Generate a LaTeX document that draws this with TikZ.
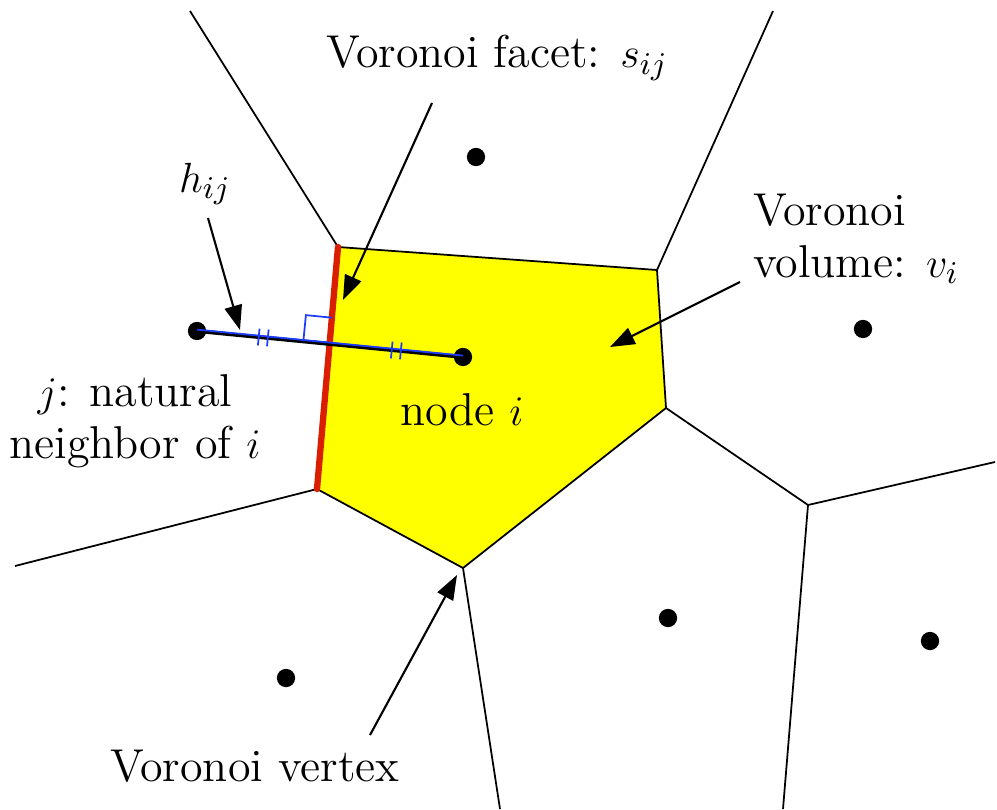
\documentclass[tikz,border=0pt]{standalone}
\usepackage{amsmath}
\usetikzlibrary{arrows.meta,calc}
\definecolor{cellyellow}{RGB}{255,255,0}
\definecolor{facetred}{RGB}{218,30,0}
\definecolor{markblue}{RGB}{30,60,255}
\tikzset{
  edge/.style={black, line width=0.5pt},
  site/.style={circle, fill=black, inner sep=0pt, minimum size=5.2pt},
  lblarr/.style={-{Triangle[length=7pt,width=5pt]}, black, line width=0.6pt},
  lbl/.style={font=\fontsize{13.1}{14.8}\selectfont, inner sep=1pt},
  tickmark/.style={markblue, line width=0.5pt},
}

\begin{document}
\begin{tikzpicture}[x=0.01cm, y=-0.01cm]
  \useasboundingbox (0,0) rectangle (997,809);
  % cell vertices
  \coordinate (vA) at (338,247);
  \coordinate (vB) at (657,270);
  \coordinate (vC) at (666,408);
  \coordinate (vD) at (463,568);
  \coordinate (vE) at (317,489);
  \coordinate (vF) at (808,505);
  % open ends
  \coordinate (oA) at (190,11);
  \coordinate (oB) at (773,11);
  \coordinate (oD) at (500,809);
  \coordinate (oE) at (15,566);
  \coordinate (oF1) at (995,462);
  \coordinate (oF2) at (783,809);

  \fill[cellyellow] (vA) -- (vB) -- (vC) -- (vD) -- (vE) -- cycle;
  \draw[edge] (vA) -- (vB) -- (vC) -- (vD) -- (vE);
  \draw[edge] (vA) -- (oA);
  \draw[edge] (vB) -- (oB);
  \draw[edge] (vC) -- (vF) -- (oF1);
  \draw[edge] (vF) -- (oF2);
  \draw[edge] (vD) -- (oD);
  \draw[edge] (vE) -- (oE);

  % facet
  \draw[facetred, line width=1.8pt, line cap=round] (vA) -- (vE);

  % sites
  \node[site] (ni) at (463,357) {};
  \node[site] (nj) at (197,331) {};
  \node[site] (n1) at (476,157) {};
  \node[site] (n2) at (863,329) {};
  \node[site] (n3) at (286,678) {};
  \node[site] (n4) at (668,618) {};
  \node[site] (n5) at (930,641) {};

  % distance h_ij
  \coordinate (X) at (intersection of vA--vE and nj--ni);
  \draw[black, line width=1.1pt] (nj.center) -- (ni.center);
  \draw[markblue, line width=0.5pt, transform canvas={yshift=0.4pt}] (nj.center) -- (ni.center);
  \draw[tickmark, shift={($(nj)!0.5!(X)$)}, rotate=-5.6]
    (-1.3pt,-2.4pt) -- (-1.3pt,2.4pt) (1.3pt,-2.4pt) -- (1.3pt,2.4pt);
  \draw[tickmark, shift={($(X)!0.5!(ni)$)}, rotate=-5.6]
    (-1.3pt,-2.4pt) -- (-1.3pt,2.4pt) (1.3pt,-2.4pt) -- (1.3pt,2.4pt);
  \draw[tickmark, shift={(X)}, rotate=-5.6]
    (-7.5pt,0pt) -- (-7.5pt,7.5pt) -- (0pt,7.5pt);

  % labels
  \node[lbl] (facetlab) at (497,58) {Voronoi facet: $s_{ij}$};
  \node[lbl] (hlab) at (205,184) {$h_{ij}$};
  \node[lbl, align=left] (vollab) at (856,239) {Voronoi\\volume: $v_i$};
  \node[lbl, align=center] (jlab) at (135,421) {$j$: natural\\neighbor of $i$};
  \node[lbl] (ilab) at (462,410) {node $i$};
  \node[lbl] (vertlab) at (255,766) {Voronoi vertex};

  % arrows
  \coordinate (hs) at (208,218);
  \coordinate (ht) at (240,330);
  \coordinate (fs) at (432,103);
  \coordinate (ft) at (343,300);
  \coordinate (vs) at (740,282);
  \coordinate (vt) at (610,347);
  \coordinate (xs) at (370,735);
  \coordinate (xt) at (457,575);
  \draw[lblarr] (hs) -- (ht);
  \draw[lblarr] (fs) -- (ft);
  \draw[lblarr] (vs) -- (vt);
  \draw[lblarr] (xs) -- (xt);
\end{tikzpicture}
\end{document}
